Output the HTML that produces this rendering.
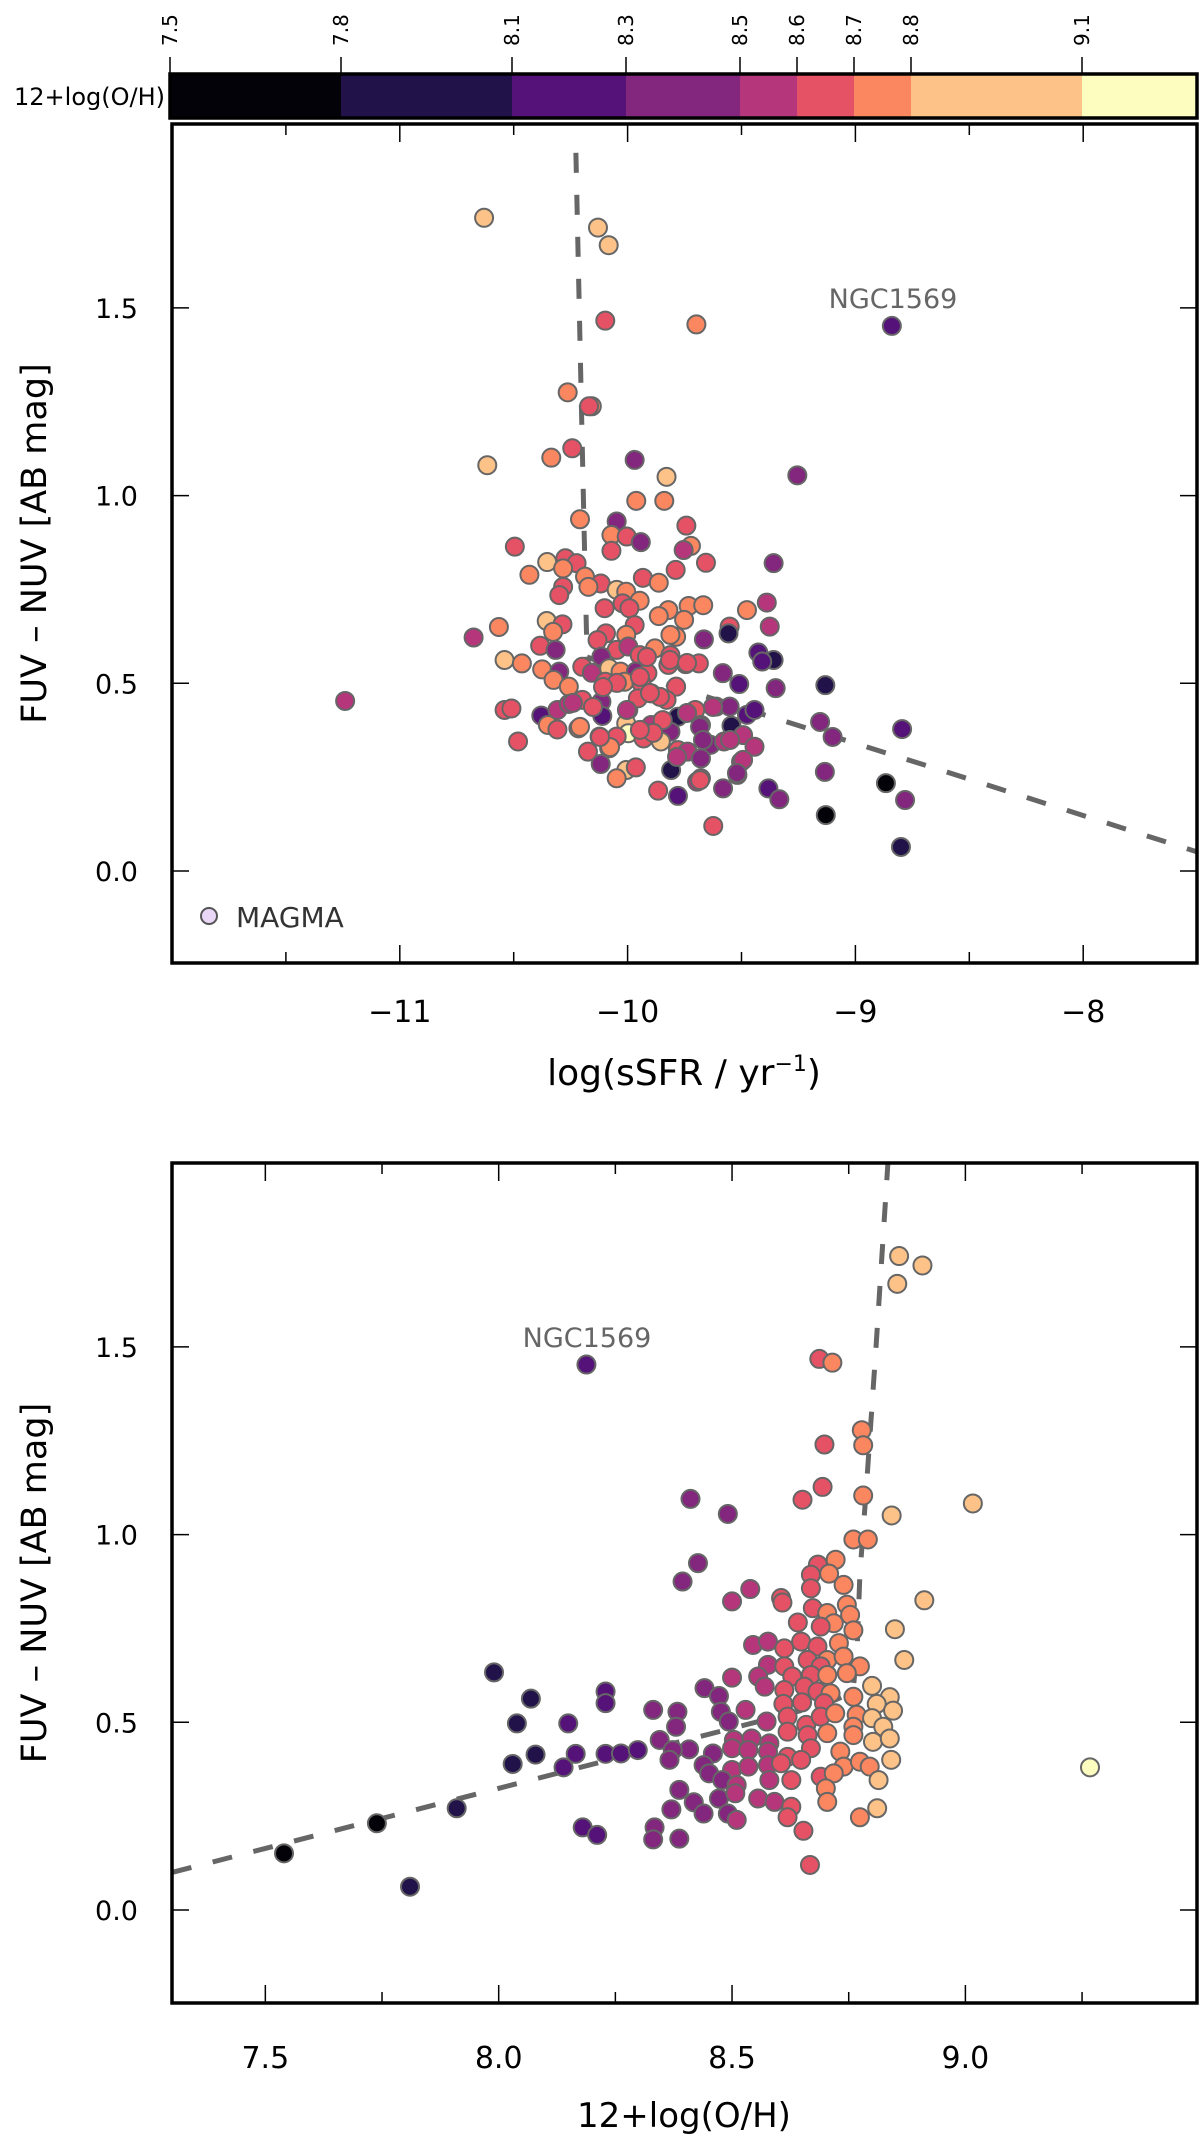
<!DOCTYPE html>
<html><head><meta charset="utf-8">
<style>
html,body{margin:0;padding:0;background:#fff;}
svg{display:block;}
text{font-family:"DejaVu Sans","Liberation Sans",sans-serif;}
</style></head>
<body>
<svg id="fig" width="1200" height="2143" viewBox="0 0 1200 2143" xmlns="http://www.w3.org/2000/svg">
  <g id="cbar"></g>
  <g id="top"></g>
  <g id="bot"></g>
</svg>
<script>
// ---- colour scale data ----
const cbBreaks = [7.5, 7.8, 8.1, 8.3, 8.5, 8.6, 8.7, 8.8, 9.1, 9.3];
const cbColors = ["#030208","#21124a","#551278","#82267e","#b5367a","#e65265","#fb8761","#fdc287","#fcfdbf"];
const cbTickLabels = ["7.5","7.8","8.1","8.3","8.5","8.6","8.7","8.8","9.1"];

// ---- top panel: FUV-NUV vs log sSFR ----
const topXTicks = [-11, -10, -9, -8];
const yTicks = [0.0, 0.5, 1.0, 1.5];
const yTickLabels = ["0.0","0.5","1.0","1.5"];
const topSsfr = [
-10.63,-10.13,-10.083,-10.098,-9.698,-8.84,-10.263,-10.157,-10.169,-10.243,
-10.335,-10.616,-9.969,-9.255,-9.829,-9.962,-9.839,-10.209,-10.048,-10.071,
-10.004,-9.942,-9.742,-9.722,-9.754,-10.071,-10.495,-10.353,-10.273,-10.224,
-10.283,-10.431,-10.187,-10.118,-10.172,-10.283,-10.300,-10.048,-10.006,-9.933,
-9.863,-9.789,-9.656,-9.359,-9.947,-10.101,-10.022,-9.992,-9.821,-9.863,
-9.732,-9.668,-9.476,-9.389,-9.752,-10.355,-10.286,-10.327,-10.565,-10.676,
-10.095,-9.969,-10.132,-10.006,-9.552,-9.557,-9.376,-9.665,-9.787,-9.812,
-10.384,-10.316,-10.048,-9.997,-10.115,-9.947,-9.880,-9.812,-9.745,-9.687,
-9.821,-10.540,-10.464,-10.375,-10.300,-10.199,-10.157,-10.081,-10.031,-9.964,
-9.913,-9.426,-9.359,-9.409,-9.582,-9.510,-9.350,-9.132,-10.325,-10.258,
-10.098,-10.014,-9.939,-9.787,-10.540,-10.510,-11.24,-10.379,-10.308,-10.258,
-10.199,-10.115,-10.111,-9.997,-9.955,-9.896,-9.829,-9.779,-9.703,-9.611,
-9.552,-9.476,-9.443,-9.544,-9.678,-10.350,-10.308,-10.216,-10.006,-9.896,
-9.812,-9.846,-9.997,-10.123,-10.048,-9.930,-9.854,-10.481,-9.636,-9.577,
-9.493,-9.443,-10.174,-10.081,-9.779,-9.737,-9.678,-9.502,-10.118,-10.006,
-9.964,-9.809,-10.048,-9.518,-9.678,-9.695,-9.866,-9.779,-9.581,-9.382,-9.334,
-9.624,-9.155,-9.10,-9.134,-9.13,-8.795,-8.866,-8.782,-8.80,
-9.946,-9.858,-9.902,-9.739,-9.682,-9.625,-9.550,-9.493,-9.520,-9.682,
-9.783,-9.888,-9.946,-10.077,-10.121,-10.209,-10.003,-10.152,-10.240,-9.814,
-9.739,-9.915,-10.047,-10.108,-9.669];
const topFuvNuv = [
1.74,1.714,1.667,1.466,1.456,1.452,1.275,1.238,1.238,1.126,
1.101,1.081,1.095,1.054,1.050,0.986,0.986,0.937,0.931,0.895,
0.891,0.876,0.920,0.866,0.855,0.853,0.864,0.823,0.833,0.820,
0.806,0.789,0.784,0.766,0.757,0.757,0.735,0.749,0.744,0.781,
0.768,0.802,0.821,0.820,0.720,0.700,0.713,0.700,0.695,0.679,
0.706,0.708,0.695,0.715,0.669,0.666,0.657,0.637,0.650,0.622,
0.633,0.655,0.615,0.629,0.651,0.633,0.651,0.617,0.624,0.629,
0.600,0.589,0.589,0.598,0.571,0.575,0.593,0.575,0.551,0.553,
0.549,0.562,0.553,0.537,0.531,0.544,0.528,0.540,0.531,0.531,
0.527,0.582,0.562,0.558,0.527,0.498,0.487,0.495,0.509,0.491,
0.504,0.504,0.500,0.491,0.429,0.433,0.453,0.414,0.429,0.445,
0.456,0.451,0.413,0.429,0.460,0.473,0.456,0.411,0.429,0.438,
0.438,0.416,0.429,0.387,0.389,0.389,0.377,0.380,0.393,0.389,
0.371,0.402,0.367,0.358,0.358,0.353,0.345,0.345,0.336,0.345,
0.362,0.331,0.318,0.327,0.322,0.318,0.300,0.291,0.285,0.269,
0.276,0.269,0.247,0.256,0.247,0.238,0.214,0.200,0.220,0.220,0.191,
0.120,0.397,0.357,0.264,0.149,0.378,0.234,0.189,0.064,
0.517,0.464,0.474,0.421,0.384,0.437,0.349,0.296,0.261,0.242,
0.304,0.368,0.376,0.330,0.357,0.384,0.429,0.437,0.448,0.562,
0.554,0.570,0.501,0.490,0.349];
const topOh = [
8.95,8.95,8.95,8.65,8.75,8.2,8.75,8.75,8.65,8.65,
8.75,8.95,8.4,8.4,8.95,8.75,8.75,8.75,8.4,8.75,
8.65,8.4,8.65,8.75,8.55,8.65,8.65,8.95,8.65,8.65,
8.75,8.75,8.75,8.65,8.75,8.65,8.65,8.95,8.75,8.65,
8.75,8.65,8.65,8.4,8.75,8.65,8.65,8.65,8.75,8.75,
8.75,8.75,8.75,8.55,8.75,8.95,8.65,8.75,8.75,8.55,
8.65,8.65,8.65,8.75,8.65,7.95,8.55,8.4,8.75,8.75,
8.65,8.4,8.65,8.55,8.4,8.65,8.75,8.65,8.65,8.65,
8.65,8.95,8.75,8.75,8.4,8.65,8.55,8.95,8.75,8.4,
8.65,8.2,7.95,8.2,8.4,8.2,8.4,7.95,8.75,8.75,
8.65,8.75,8.65,8.65,8.65,8.65,8.55,8.2,8.55,8.55,
8.65,8.4,8.2,8.55,8.65,8.65,8.65,7.95,8.65,8.55,
8.4,8.2,8.2,7.95,8.4,8.75,8.65,8.75,8.95,8.55,
8.4,8.65,9.2,8.65,8.65,8.65,8.95,8.65,8.4,8.55,
8.55,8.55,8.65,8.75,8.65,8.55,8.4,8.55,8.4,8.95,
8.65,7.95,8.75,8.4,8.65,8.55,8.65,8.2,8.4,8.2,8.4,
8.65,8.4,8.4,8.4,7.65,8.2,7.65,8.4,7.95,
8.65,8.65,8.65,8.55,8.4,8.55,8.55,8.55,8.4,8.65,
8.55,8.65,8.65,8.75,8.65,8.75,8.55,8.65,8.55,8.65,
8.65,8.65,8.65,8.65,8.4];
const topLineX = [-10.227, -10.191, -10.178, -10.0, -9.4, -8.6, -7.5];
const topLineY = [1.913, 0.909, 0.570, 0.530, 0.416, 0.264, 0.051];

// ---- bottom panel: FUV-NUV vs 12+log(O/H) ----
const botXTicks = [7.5, 8.0, 8.5, 9.0];
const botXTickLabels = ["7.5","8.0","8.5","9.0"];
const botOh = [
8.188,8.858,8.908,8.854,8.687,8.715,8.778,8.698,8.781,8.694,
8.651,8.781,8.411,8.491,8.842,9.016,8.760,8.791,
8.427,8.394,8.539,8.50,8.605,8.608,8.684,8.722,8.669,8.708,
8.669,8.739,8.912,8.673,8.704,8.746,8.753,8.641,8.718,8.760,
8.690,8.849,8.545,8.577,8.612,8.648,8.683,8.729,8.869,8.662,
8.704,8.739,8.774,8.577,8.612,8.690,8.746,8.50,8.556,8.629,
8.669,8.704,7.99,8.441,8.472,8.570,8.612,8.655,8.683,8.711,
8.80,8.760,8.838,8.229,8.229,8.069,8.331,8.383,8.476,8.529,
8.610,8.650,8.697,8.810,8.845,8.039,8.149,8.38,8.493,8.574,
8.619,8.659,8.690,8.721,8.767,8.80,8.760,8.824,8.345,8.408,
8.504,8.542,8.580,8.619,8.662,8.704,8.760,8.802,8.838,8.079,
8.030,8.139,8.165,8.229,8.262,8.298,8.373,8.366,8.459,8.50,
8.535,8.577,8.619,8.669,8.732,8.739,8.774,8.795,8.841,8.439,
8.451,8.50,8.535,8.577,8.605,8.648,8.690,8.718,8.479,8.510,
8.580,8.627,8.701,8.814,8.387,8.472,8.507,8.556,8.591,8.627,
8.704,8.418,8.439,8.491,8.510,8.370,8.619,8.774,8.811,8.653,
8.180,8.211,8.334,8.331,8.387,8.667,7.910,7.739,7.540,7.810,9.267];
const botFuvNuv = [
1.453,1.742,1.717,1.668,1.468,1.458,1.278,1.240,1.238,1.127,
1.093,1.104,1.095,1.055,1.051,1.083,0.987,0.987,
0.924,0.875,0.855,0.822,0.831,0.819,0.920,0.933,0.893,0.896,
0.857,0.866,0.825,0.804,0.791,0.813,0.786,0.766,0.764,0.745,
0.755,0.748,0.706,0.715,0.697,0.715,0.702,0.711,0.666,0.666,
0.666,0.675,0.649,0.653,0.649,0.649,0.631,0.619,0.622,0.622,
0.626,0.626,0.633,0.591,0.570,0.595,0.586,0.595,0.582,0.577,
0.597,0.568,0.567,0.582,0.551,0.563,0.533,0.528,0.528,0.533,
0.549,0.553,0.551,0.549,0.531,0.497,0.497,0.488,0.502,0.502,
0.515,0.493,0.515,0.524,0.520,0.511,0.488,0.488,0.453,0.428,
0.453,0.457,0.444,0.475,0.466,0.471,0.466,0.448,0.457,0.414,
0.389,0.380,0.416,0.416,0.417,0.426,0.426,0.400,0.417,0.431,
0.426,0.422,0.408,0.431,0.422,0.382,0.395,0.382,0.400,0.386,
0.364,0.373,0.382,0.386,0.391,0.400,0.355,0.364,0.346,0.333,
0.346,0.346,0.324,0.346,0.320,0.297,0.311,0.297,0.288,0.275,
0.288,0.287,0.257,0.257,0.240,0.268,0.247,0.247,0.271,0.211,
0.220,0.200,0.220,0.188,0.190,0.120,0.271,0.231,0.151,0.062,0.380];
const botLineX = [7.3, 8.70, 8.759, 8.768, 8.774, 8.787, 8.808, 8.834];
const botLineY = [0.10, 0.548, 0.58, 0.693, 0.896, 1.11, 1.49, 1.99];

// ---- geometry ----
const NS = "http://www.w3.org/2000/svg";
const L = 172, R = 1197;
const T1 = 124, B1 = 963, T2 = 1163, B2 = 2003;
const xT = v => L + (v + 12) * 227.8;
const yT = v => 871 - v * 375.4;
const xB = v => L + (v - 7.3) * 466.7;
const yB = v => 1910 - v * 375.4;
const xC = v => 170 + (v - 7.5) * 570;

function mk(tag, attrs, parent) {
  const e = document.createElementNS(NS, tag);
  for (const k in attrs) e.setAttribute(k, attrs[k]);
  parent.appendChild(e);
  return e;
}
function ohColor(v) {
  for (let i = 1; i < cbBreaks.length - 1; i++) if (v < cbBreaks[i]) return cbColors[i - 1];
  return cbColors[cbColors.length - 1];
}

// ---- colorbar ----
const cb = document.getElementById('cbar');
for (let i = 0; i < cbColors.length; i++) {
  const r = mk('rect', {x: xC(cbBreaks[i]), y: 74, width: xC(cbBreaks[i+1]) - xC(cbBreaks[i]), height: 44, fill: cbColors[i]}, cb);
  
  
}
const cbf = mk('rect', {x: 170, y: 74, width: 1027, height: 44, fill: 'none', stroke: '#000', 'stroke-width': 3.5}, cb);


for (let i = 0; i < cbTickLabels.length; i++) {
  const x = xC(cbBreaks[i]);
  const tk = mk('line', {x1: x, x2: x, y1: 57, y2: 74, stroke: '#000', 'stroke-width': 1.5}, cb);
  
  
  const t = mk('text', {x: 0, y: 0, 'font-size': 20, 'text-anchor': 'start', transform: `translate(${x + 7},46) rotate(-90)`}, cb);
  t.textContent = cbTickLabels[i];
  
  
}
const cbl = mk('text', {x: 165, y: 105, 'font-size': 24, 'text-anchor': 'end'}, cb);
cbl.textContent = '12+log(O/H)';



// ---- panel helper ----
function panel(g, T, B, xf, yf, xs, ys, cols, lx, ly, major, minor, xlabels, labelY) {
  const ln = mk('polyline', {points: lx.map((v, i) => xf(v) + ',' + yf(ly[i])).join(' '), fill: 'none', stroke: '#666', 'stroke-width': 5, 'stroke-dasharray': '20 22'}, g);
  
  
  for (let i = 0; i < xs.length; i++) {
    const c = mk('circle', {cx: xf(xs[i]), cy: yf(ys[i]), r: 9, fill: ohColor(cols[i]), stroke: '#666', 'stroke-width': 2}, g);
    
    
  }
  const f = mk('rect', {x: L, y: T, width: R - L, height: B - T, fill: 'none', stroke: '#000', 'stroke-width': 3.5}, g);
  
  
  major.forEach((v, i) => {
    const x = xf(v);
    const a = mk('line', {x1: x, x2: x, y1: B, y2: B - 18, stroke: '#000', 'stroke-width': 1.5}, g);
    
    
    const b = mk('line', {x1: x, x2: x, y1: T, y2: T + 18, stroke: '#000', 'stroke-width': 1.5}, g);
    
    
    const t = mk('text', {x: x, y: labelY, 'font-size': 30, 'text-anchor': 'middle'}, g);
    t.textContent = xlabels[i];
    
    
  });
  minor.forEach(v => {
    const x = xf(v);
    const a = mk('line', {x1: x, x2: x, y1: B, y2: B - 11, stroke: '#000', 'stroke-width': 1.5}, g);
    
    
    const b = mk('line', {x1: x, x2: x, y1: T, y2: T + 11, stroke: '#000', 'stroke-width': 1.5}, g);
    
    
  });
  yTicks.forEach((v, i) => {
    const y = yf(v);
    const a = mk('line', {x1: L, x2: L + 17, y1: y, y2: y, stroke: '#000', 'stroke-width': 1.5}, g);
    
    
    const b = mk('line', {x1: R, x2: R - 17, y1: y, y2: y, stroke: '#000', 'stroke-width': 1.5}, g);
    
    
    const t = mk('text', {x: 138, y: y + 10, 'font-size': 27, 'text-anchor': 'end'}, g);
    t.textContent = yTickLabels[i];
    
    
  });
  const yt = mk('text', {x: 0, y: 0, 'font-size': 35, 'text-anchor': 'middle', transform: `translate(46,${(T + B) / 2}) rotate(-90)`}, g);
  yt.textContent = 'FUV \u2013 NUV [AB mag]';
  
  
}

// ---- top panel ----
const gt = document.getElementById('top');
panel(gt, T1, B1, xT, yT, topSsfr, topFuvNuv, topOh, topLineX, topLineY,
  topXTicks, [-11.5, -10.5, -9.5, -8.5], topXTicks.map(v => '\u2212' + Math.abs(v)), 1022);
const xt1 = mk('text', {x: 684, y: 1085, 'font-size': 36, 'text-anchor': 'middle'}, gt);
xt1.innerHTML = 'log(sSFR / yr<tspan dy="-14" font-size="22">\u22121</tspan><tspan dy="14">)</tspan>';


const n1 = mk('text', {x: 893, y: 308, 'font-size': 27, 'text-anchor': 'middle', fill: '#666'}, gt);
n1.textContent = 'NGC1569';


const lg = mk('circle', {cx: 209, cy: 916, r: 8, fill: '#ead6f7', stroke: '#555', 'stroke-width': 2}, gt);


const lgt = mk('text', {x: 236, y: 927, 'font-size': 28, fill: '#333'}, gt);
lgt.textContent = 'MAGMA';



// ---- bottom panel ----
const gb = document.getElementById('bot');
panel(gb, T2, B2, xB, yB, botOh, botFuvNuv, botOh, botLineX, botLineY,
  botXTicks, [7.75, 8.25, 8.75, 9.25], botXTickLabels, 2068);
const xt2 = mk('text', {x: 684, y: 2127, 'font-size': 34, 'text-anchor': 'middle'}, gb);
xt2.textContent = '12+log(O/H)';


const n2 = mk('text', {x: 587, y: 1347, 'font-size': 27, 'text-anchor': 'middle', fill: '#666'}, gb);
n2.textContent = 'NGC1569';


</script>
</body></html>
